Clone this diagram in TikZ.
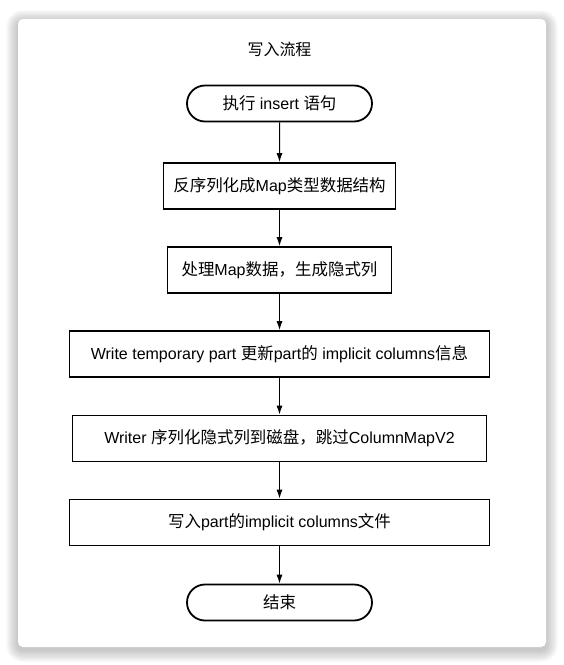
\documentclass[tikz,border=0pt]{standalone}
\usepackage{fontspec}
\setmainfont{Liberation Sans}
\newfontfamily\zh{Noto Sans CJK SC}[Scale=1.03]
\usetikzlibrary{shapes.misc,arrows.meta}

\begin{document}
\begin{tikzpicture}[x=1pt, y=-1pt, font=\fontsize{16}{18}\selectfont,
    term/.style={rounded rectangle, draw, line width=1.8pt, minimum width=185pt, minimum height=36pt, inner sep=0pt},
    proc/.style={rectangle, draw, line width=1.8pt, minimum height=46pt, inner sep=0pt},
    flow/.style={-{Latex[length=9pt,width=6pt]}, line width=1pt}]
    \useasboundingbox (0,0) rectangle (564,665);

    % Card and its shadow
    \foreach \i in {1,...,12}
        \fill[black, opacity=0.018, rounded corners=5pt+\i pt] (18-\i,22-\i) rectangle (546+\i,650+\i);
    \fill[white, rounded corners=5pt] (18,19) rectangle (546,647);

    % Title
    \node[font=\fontsize{15.5}{18}\selectfont] (title) at (279.5,49.5) {\zh 写入流程};

    % Steps
    \node[term] (start) at (279.5,103.5) {{\zh 执行} insert {\zh 语句}};
    \node[proc, minimum width=232pt] (deser) at (279.5,186) {{\zh 反序列化成}Map{\zh 类型数据结构}};
    \node[proc, minimum width=224pt] (implicit) at (279.5,270) {{\zh 处理}Map{\zh 数据，生成隐式列}};
    \node[proc, minimum width=420pt] (temp) at (279.5,354) {Write temporary part {\zh 更新}part{\zh 的} implicit columns{\zh 信息}};
    \node[proc, minimum width=414pt] (writer) at (279.5,438.5) {Writer {\zh 序列化隐式列到磁盘，跳过}ColumnMapV2};
    \node[proc, minimum width=420pt] (file) at (279.5,522.5) {{\zh 写入}part{\zh 的}implicit columns{\zh 文件}};
    \node[term] (end) at (279.5,602.5) {\zh 结束};

    % Edges
    \draw[flow] (start) -- (deser);
    \draw[flow] (deser) -- (implicit);
    \draw[flow] (implicit) -- (temp);
    \draw[flow] (temp) -- (writer);
    \draw[flow] (writer) -- (file);
    \draw[flow] (file) -- (end);
\end{tikzpicture}
\end{document}
